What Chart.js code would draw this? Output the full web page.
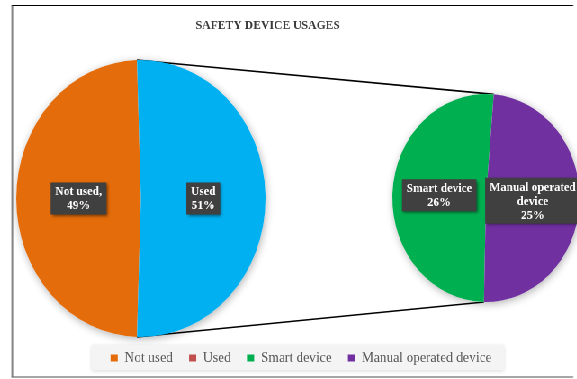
<!DOCTYPE html>
<html>
<head>
<meta charset="utf-8">
<script src="https://cdn.jsdelivr.net/npm/chart.js@4.4.1/dist/chart.umd.min.js"></script>
<style>
  html, body { margin: 0; padding: 0; background: #fff; overflow: hidden; }
  /* the original picture is squeezed horizontally, so draw wide and squeeze */
  #stage { position: relative; width: 641px; height: 379px; transform: scaleX(0.9); transform-origin: 0 0; }
  #frame { position: absolute; left: 13px; top: 5px; width: 623px; height: 370px;
           border-top: 1px solid #000; border-left: 1px solid #000; border-bottom: 2px solid #a6a6a6; }
  canvas { position: absolute; left: 0; top: 0; }
</style>
</head>
<body>
<div id="stage">
  <div id="frame"></div>
  <canvas id="usageChart" width="641" height="379"></canvas>
  <canvas id="deviceChart" width="641" height="379"></canvas>
</div>
<script>
"use strict";

// data
var usageLabels = ['Not used', 'Used'];
var usageValues = [49, 51];
var deviceLabels = ['Smart device', 'Manual operated device'];
var deviceValues = [26, 25];
var legendLabels = ['Not used', 'Used', 'Smart device', 'Manual operated device'];
// texts shown in the data label boxes (value is added below)
var usageLabelNames = ['Not used,', 'Used'];
var deviceLabelNames = ['Smart device', 'Manual operated\ndevice'];

// styles
var usageColors = ['#E46C0A', '#00B0F0'];
var deviceColors = ['#00B050', '#7030A0'];
var legendColors = ['#E46C0A', '#C0504D', '#00B050', '#7030A0'];
var serif = '"Liberation Serif", serif';

function sum(arr) {
  return arr.reduce(function(a, b) { return a + b; }, 0);
}

// put the pie in a fixed box, title and legend keep their own layout
function plotBox(box) {
  return {
    id: 'plotBox',
    afterLayout: function(chart) {
      chart.chartArea = {
        left: box.left, top: box.top, right: box.right, bottom: box.bottom,
        width: box.right - box.left, height: box.bottom - box.top
      };
    }
  };
}

var pieShadow = {
  id: 'pieShadow',
  beforeDatasetsDraw: function(chart) {
    var arc = chart.getDatasetMeta(0).data[0];
    var ctx = chart.ctx;
    ctx.save();
    ctx.shadowColor = 'rgba(0,0,0,0.3)';
    ctx.shadowBlur = 9;
    ctx.shadowOffsetX = 1;
    ctx.shadowOffsetY = 2;
    ctx.fillStyle = '#fff';
    ctx.beginPath();
    ctx.arc(arc.x, arc.y, arc.outerRadius, 0, Math.PI * 2);
    ctx.fill();
    ctx.restore();
  }
};

var sliceLabels = {
  id: 'sliceLabels',
  afterDatasetsDraw: function(chart, args, opts) {
    var ctx = chart.ctx;
    var meta = chart.getDatasetMeta(0);
    var values = chart.data.datasets[0].data;
    var lineH = 14;
    ctx.save();
    ctx.font = 'bold 13px ' + serif;
    ctx.textAlign = 'center';
    ctx.textBaseline = 'middle';
    meta.data.forEach(function(arc, i) {
      var lines = opts.names[i].split('\n').concat([values[i] + '%']);
      var pos = arc.tooltipPosition();
      var w = Math.max.apply(null, lines.map(function(l) { return ctx.measureText(l).width; })) + 10;
      var h = lines.length * lineH + 4;
      var x0 = pos.x - w / 2, y0 = pos.y - h / 2;
      ctx.save();
      ctx.shadowColor = 'rgba(0,0,0,0.5)';
      ctx.shadowBlur = 3;
      ctx.shadowOffsetX = 1.5;
      ctx.shadowOffsetY = 1.5;
      ctx.fillStyle = '#404040';
      ctx.fillRect(x0, y0, w, h);
      ctx.restore();
      ctx.fillStyle = '#fff';
      lines.forEach(function(l, j) {
        ctx.fillText(l, pos.x, y0 + 2 + lineH * j + lineH / 2 + 0.5);
      });
    });
    ctx.restore();
  }
};

var legendBack = {
  id: 'legendBack',
  beforeDraw: function(chart) {
    var boxes = chart.legend.legendHitBoxes;
    if (!boxes || !boxes.length) return;
    var left = Math.min.apply(null, boxes.map(function(b) { return b.left; }));
    var right = Math.max.apply(null, boxes.map(function(b) { return b.left + b.width; }));
    var mid = boxes[0].top + boxes[0].height / 2;
    var ctx = chart.ctx;
    ctx.save();
    ctx.shadowColor = 'rgba(0,0,0,0.15)';
    ctx.shadowBlur = 4;
    ctx.shadowOffsetY = 1;
    ctx.fillStyle = '#F4F4F4';
    ctx.fillRect(left - 21, mid - 13, right - left + 35, 25);
    ctx.restore();
  }
};

var commonOptions = {
  responsive: false,
  animation: false,
  events: [],
  devicePixelRatio: 1
};

// second pie: breakdown of "Used"
var deviceChart = new Chart(document.getElementById('deviceChart'), {
  type: 'pie',
  data: {
    labels: deviceLabels,
    datasets: [{
      data: deviceValues,
      backgroundColor: deviceColors,
      borderWidth: 0,
      clip: false,
      rotation: 93 - 360 * (deviceValues[0] + deviceValues[1] / 2) / sum(deviceValues)
    }]
  },
  options: Object.assign({}, commonOptions, {
    layout: { padding: { left: 28, right: 0, top: 0, bottom: 3.5 } },
    plugins: {
      tooltip: { enabled: false },
      title: { display: false },
      legend: {
        position: 'bottom',
        labels: {
          boxWidth: 8,
          boxHeight: 7,
          padding: 18,
          color: '#595959',
          font: { family: serif, size: 15 },
          generateLabels: function() {
            return legendLabels.map(function(t, i) {
              return { text: t, fillStyle: legendColors[i], strokeStyle: legendColors[i],
                       lineWidth: 0, hidden: false, index: i, fontColor: '#595959' };
            });
          }
        }
      },
      sliceLabels: { names: deviceLabelNames }
    }
  }),
  plugins: [plotBox({ left: 436, top: 94, right: 644, bottom: 302 }), legendBack, pieShadow, sliceLabels]
});

// connector lines from the "Used" slice to the second pie, drawn under the first pie
var connectors = {
  id: 'connectors',
  beforeDatasetsDraw: function(chart) {
    var used = chart.getDatasetMeta(0).data[1];
    var split = deviceChart.getDatasetMeta(0).data[1];
    function pt(arc, a) {
      return [arc.x + arc.outerRadius * Math.cos(a), arc.y + arc.outerRadius * Math.sin(a)];
    }
    var ctx = chart.ctx;
    ctx.save();
    ctx.strokeStyle = '#000';
    ctx.lineWidth = 1.6;
    [[used.startAngle, split.startAngle], [used.endAngle, split.endAngle]].forEach(function(p) {
      var a = pt(used, p[0]), b = pt(split, p[1]);
      ctx.beginPath();
      ctx.moveTo(a[0], a[1]);
      ctx.lineTo(b[0], b[1]);
      ctx.stroke();
    });
    ctx.restore();
  }
};

// main pie: used / not used
var usageChart = new Chart(document.getElementById('usageChart'), {
  type: 'pie',
  data: {
    labels: usageLabels,
    datasets: [{
      data: usageValues,
      backgroundColor: usageColors,
      borderWidth: 0,
      clip: false,
      rotation: 90 - 360 * (usageValues[0] + usageValues[1] / 2) / sum(usageValues)
    }]
  },
  options: Object.assign({}, commonOptions, {
    layout: { padding: { left: 0, right: 46, top: 0, bottom: 0 } },
    plugins: {
      tooltip: { enabled: false },
      legend: { display: false },
      title: {
        display: true,
        text: 'SAFETY DEVICE USAGES',
        color: '#3a3a3a',
        font: { family: serif, size: 13, weight: 'bold' },
        padding: { top: 18, bottom: 0 }
      },
      sliceLabels: { names: usageLabelNames }
    }
  }),
  plugins: [plotBox({ left: 18, top: 60, right: 295, bottom: 337 }), pieShadow, connectors, sliceLabels]
});
</script>
</body>
</html>
